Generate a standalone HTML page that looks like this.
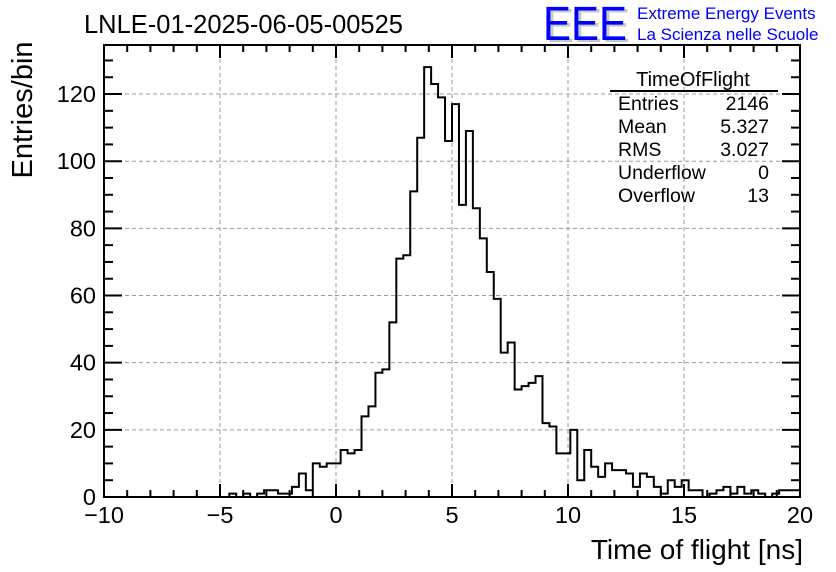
<!DOCTYPE html>
<html><head><meta charset="utf-8"><style>
html,body{margin:0;padding:0;background:#fff;}
svg{display:block;font-family:"Liberation Sans",sans-serif;}
</style></head><body>
<svg id="chart" width="836" height="572" viewBox="0 0 836 572">
<text x="84" y="33" font-size="25.5">LNLE-01-2025-06-05-00525</text>
<g>
<text x="546" y="42" font-size="48" fill="#c8c8c8" textLength="84" lengthAdjust="spacingAndGlyphs">EEE</text>
<text x="543" y="40" font-size="48" fill="#0000ff" textLength="84" lengthAdjust="spacingAndGlyphs">EEE</text>
<text x="637" y="19" font-size="17" fill="#0000ff">Extreme Energy Events</text>
<text x="637" y="40" font-size="17" fill="#0000ff">La Scienza nelle Scuole</text>
</g>
<g id="grid"></g>
<g id="hist"></g>
<g id="axes"></g>
<text x="32" y="110" font-size="29" text-anchor="middle" transform="rotate(-90 32 110)">Entries/bin</text>
<text x="803" y="559" font-size="28" text-anchor="end">Time of flight [ns]</text>
<g>
<text x="693" y="86" font-size="20" text-anchor="middle">TimeOfFlight</text>
<line x1="610" y1="91" x2="778" y2="91" stroke="#000" stroke-width="2"/>
<g font-size="19.5">
<text x="618" y="110">Entries</text><text x="769" y="110" text-anchor="end">2146</text>
<text x="618" y="133">Mean</text><text x="769" y="133" text-anchor="end">5.327</text>
<text x="618" y="156">RMS</text><text x="769" y="156" text-anchor="end">3.027</text>
<text x="618" y="179">Underflow</text><text x="769" y="179" text-anchor="end">0</text>
<text x="618" y="202">Overflow</text><text x="769" y="202" text-anchor="end">13</text>
</g></g>
</svg>
<script>
const binLow = -10, binWidth = 0.3;
const counts = [0,0,0,0,0,0,0,0,0,0, 0,0,0,0,0,0,0,0,1,0, 1,0,1,2,2,1,1,3,7,2,
 10,9,10,10,14,13,14,24,27,37, 38,52,71,72,91,107,128,123,119,106, 117,87,109,86,77,67,59,43,46,32,
 33,34,36,22,21,13,13,20,5,14, 9,6,10,8,8,7,3,7,6,3, 1,5,3,5,2,2,0,1,2,3, 1,3,1,2,1,0,1,2,2,2];
const xTicks = [-10,-5,0,5,10,15,20];
const yTicks = [0,20,40,60,80,100,120];
const X0=104, X1=800, Y0=497, Y1=45;
const xs = v => X0 + (v+10)/30*(X1-X0);
const ys = v => Y0 - v*3.358;
const NS='http://www.w3.org/2000/svg';
function mk(parent, tag, attrs){const e=document.createElementNS(NS,tag);for(const k in attrs)e.setAttribute(k,attrs[k]);parent.appendChild(e);return e;}
const grid=document.getElementById('grid'), axes=document.getElementById('axes'), hist=document.getElementById('hist');
xTicks.slice(1,-1).forEach(t=>{const l=mk(grid,'line',{x1:xs(t),x2:xs(t),y1:Y1,y2:Y0,stroke:'#999','stroke-dasharray':'4,3'});

});
yTicks.slice(1).forEach(t=>{const l=mk(grid,'line',{x1:X0,x2:X1,y1:ys(t),y2:ys(t),stroke:'#999','stroke-dasharray':'4,3'});

});
let d='M'+xs(binLow)+','+Y0;
counts.forEach((c,i)=>{const a=binLow+i*binWidth;d+=' L'+xs(a)+','+ys(c)+' L'+xs(a+binWidth)+','+ys(c);});
d+=' L'+xs(binLow+counts.length*binWidth)+','+Y0;
const p=mk(hist,'path',{d:d,fill:'none',stroke:'#000','stroke-width':2});


const fr=mk(axes,'rect',{x:X0,y:Y1,width:X1-X0,height:Y0-Y1,fill:'none',stroke:'#000','stroke-width':2});


for(let v=-10;v<=20;v++){const L=(v%5===0)?13:7;
mk(axes,'line',{x1:xs(v),x2:xs(v),y1:Y0,y2:Y0-L,stroke:'#000','stroke-width':2});
mk(axes,'line',{x1:xs(v),x2:xs(v),y1:Y1,y2:Y1+L,stroke:'#000','stroke-width':2});}
for(let v=0;v<=130;v+=5){const L=(v%20===0)?18:9;if(ys(v)<Y1)break;
mk(axes,'line',{x1:X0,x2:X0+L,y1:ys(v),y2:ys(v),stroke:'#000','stroke-width':2});
mk(axes,'line',{x1:X1,x2:X1-L,y1:ys(v),y2:ys(v),stroke:'#000','stroke-width':2});}
xTicks.forEach(t=>{const e=mk(axes,'text',{x:xs(t),y:523,'font-size':23.5,'text-anchor':'middle'});e.textContent=(t<0?'\u2212'+(-t):t);

});
yTicks.forEach(t=>{const e=mk(axes,'text',{x:96,y:ys(t)+8,'font-size':23.5,'text-anchor':'end'});e.textContent=t;

});
</script>
</body></html>
